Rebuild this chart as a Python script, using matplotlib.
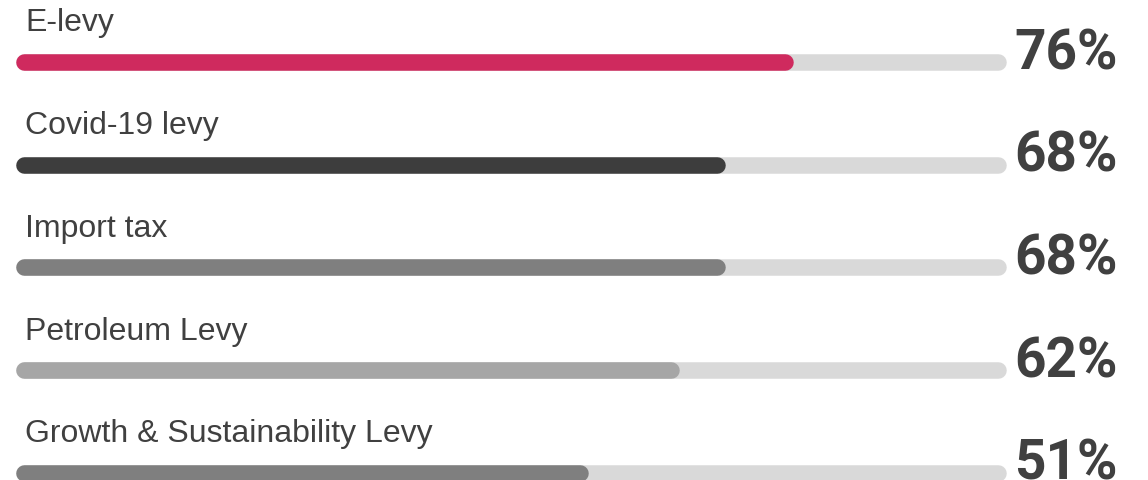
import matplotlib
matplotlib.use('Agg')
from matplotlib import pyplot as plt

# data
labels = ['E-levy', 'Covid-19 levy', 'Import tax', 'Petroleum Levy', 'Growth & Sustainability Levy']
pct_text = ['76%', '68%', '68%', '62%', '51%']
fill = [78.5, 71.6, 71.6, 67.0, 57.8]   # filled part of the track, % of track length
colors = ['#cf2a5e', '#3d3d3d', '#7f7f7f', '#a6a6a6', '#7f7f7f']

track_color = '#d9d9d9'
text_color = '#404040'

W, H = 1148, 480
fig = plt.figure(figsize=(W / 100, H / 100), dpi=100)
ax = fig.add_axes([0, 0, 1, 1])
ax.set_xlim(0, W)
ax.set_ylim(H, 0)
ax.axis('off')

x0, x1 = 16, 1006       # track ends in pixels
bar_h = 16.5            # bar thickness in pixels
r = bar_h / 2
lw = bar_h * 72 / 100
y_first, step = 62, 102.7

for i in range(len(labels)):
    y = y_first + i * step
    ax.plot([x0 + r, x1 - r], [y, y], color=track_color, lw=lw, solid_capstyle='round')
    end = x0 + fill[i] / 100 * (x1 - x0)
    ax.plot([x0 + r, end - r], [y, y], color=colors[i], lw=lw, solid_capstyle='round')
    ax.text(25, y - 30.5, labels[i], fontsize=23, family='Liberation Sans',
            color=text_color, ha='left', va='baseline')
    ax.text(1118, y + 7, pct_text[i], fontsize=39.5, family='Roboto',
            fontweight='bold', color=text_color, ha='right', va='baseline')

fig.savefig('out.png', dpi=100)
